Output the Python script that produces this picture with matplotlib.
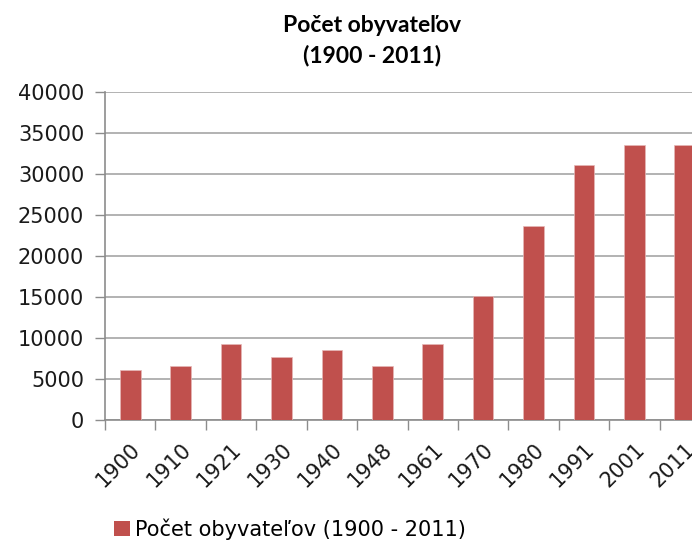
import matplotlib
matplotlib.use("Agg")
import matplotlib.pyplot as plt
from matplotlib.patches import Patch

years = ["1900", "1910", "1921", "1930", "1940", "1948", "1961",
         "1970", "1980", "1991", "2001", "2011"]
population = [6100, 6550, 9270, 7680, 8540, 6550, 9270,
              15160, 23660, 31100, 33540, 33540]
y_ticks = [0, 5000, 10000, 15000, 20000, 25000, 30000, 35000, 40000]

_BAR = "#c0504d"
_GRID = "#a6a6a6"
_AXIS = "#8c8c8c"
_TEXT = "#1a1a1a"

fig = plt.figure(figsize=(6.92, 5.40), dpi=100)
fig.patch.set_facecolor("white")

# axes runs past the right edge on purpose, last bar is cut off
ax = fig.add_axes([105 / 692, (540 - 420) / 540, 605 / 692, 328 / 540])

xs = list(range(len(years)))
ax.bar(xs, population, width=0.41, color=_BAR, edgecolor="#e6b8b7",
       linewidth=0.5, zorder=3)

ax.set_xlim(-0.5, len(years) - 0.5)
ax.set_ylim(0, 40000)
ax.set_yticks(y_ticks)
ax.set_yticklabels([str(v) for v in y_ticks], fontsize=15, color=_TEXT,
                   family="DejaVu Sans")
ax.tick_params(axis="y", length=7, width=1, color=_AXIS, pad=8)

# category ticks sit between bars, labels under the bars
ax.set_xticks([x - 0.5 for x in xs], minor=False)
ax.set_xticklabels([])
ax.set_xticks(xs, minor=True)
ax.set_xticklabels(years, minor=True, rotation=45, ha="right",
                   rotation_mode="anchor", fontsize=15, color=_TEXT,
                   family="DejaVu Sans")
ax.tick_params(axis="x", which="major", length=7, width=1, color=_AXIS)
ax.tick_params(axis="x", which="minor", length=0, pad=14)

ax.grid(axis="y", color=_GRID, linewidth=1.2, zorder=0)
ax.set_axisbelow(True)
for side in ("top", "right"):
    ax.spines[side].set_visible(False)
for side in ("left", "bottom"):
    ax.spines[side].set_color(_AXIS)
    ax.spines[side].set_linewidth(1.2)

fig.text(372 / 692, 1 - 26 / 540, "Počet obyvateľov", ha="center", va="center",
         fontsize=16.5, fontweight="bold", family="Lato", color="black")
fig.text(372 / 692, 1 - 56 / 540, "(1900 - 2011)", ha="center", va="center",
         fontsize=16.5, fontweight="bold", family="Lato", color="black")

fig.legend(handles=[Patch(facecolor=_BAR, edgecolor="none",
                          label="Počet obyvateľov (1900 - 2011)")],
           loc="center left", bbox_to_anchor=(114 / 692, 1 - 529 / 540),
           frameon=False, handlelength=0.75, handleheight=0.75,
           handletextpad=0.25, borderaxespad=0, borderpad=0,
           prop={"family": "DejaVu Sans", "size": 15})

fig.savefig("out.png", dpi=100, facecolor="white")
